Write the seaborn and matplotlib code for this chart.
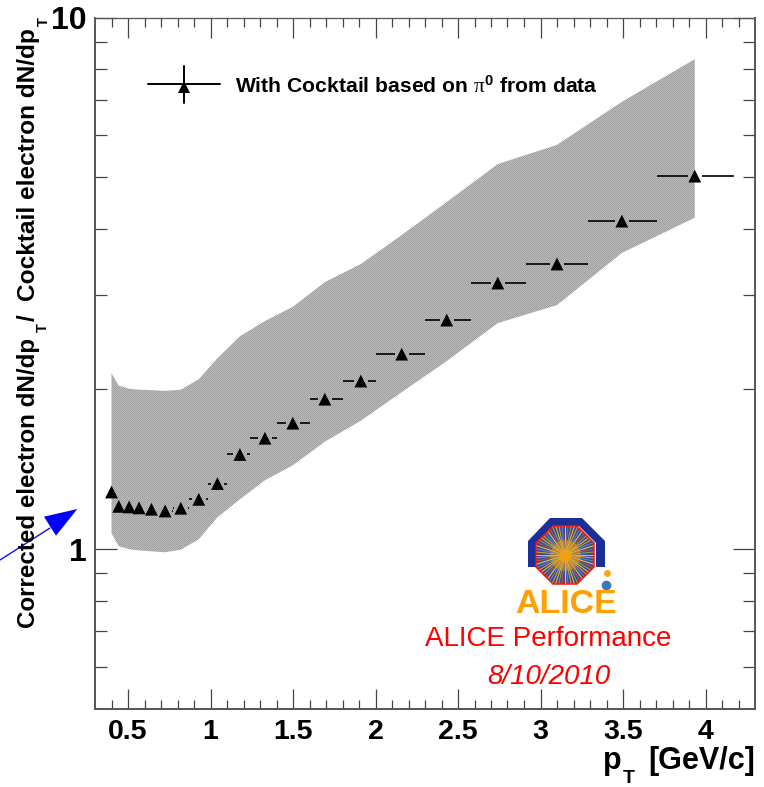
import numpy as np
import matplotlib
matplotlib.use('Agg')
import matplotlib.pyplot as plt
from matplotlib.patches import Polygon
from matplotlib.ticker import FixedLocator, NullFormatter
import seaborn as sns

pt = [0.40, 0.444, 0.507, 0.567, 0.642, 0.725, 0.82, 0.929, 1.042, 1.178, 1.33, 1.499,
      1.693, 1.911, 2.159, 2.432, 2.741, 3.10, 3.493, 3.935]
ratio = [1.28, 1.203, 1.20, 1.195, 1.188, 1.179, 1.193, 1.24, 1.328, 1.506, 1.616, 1.725,
         1.914, 2.07, 2.326, 2.696, 3.165, 3.437, 4.14, 5.03]
pt_low = [0.38, 0.42, 0.47, 0.54, 0.60, 0.68, 0.77, 0.87, 0.985, 1.10, 1.24, 1.40,
          1.60, 1.80, 2.00, 2.30, 2.58, 2.91, 3.285, 3.705]
pt_high = [0.42, 0.47, 0.54, 0.60, 0.68, 0.77, 0.87, 0.985, 1.10, 1.24, 1.40, 1.60,
           1.80, 2.00, 2.30, 2.58, 2.91, 3.285, 3.705, 4.173]
band_up = [2.142, 2.029, 2.003, 1.994, 1.99, 1.984, 1.994, 2.087, 2.286, 2.513, 2.685, 2.856,
           3.178, 3.437, 3.897, 4.497, 5.30, 5.76, 6.94, 8.35]
band_down = [1.07, 1.012, 0.999, 0.994, 0.99, 0.986, 0.997, 1.043, 1.147, 1.24, 1.347, 1.437,
             1.592, 1.743, 1.973, 2.257, 2.661, 2.877, 3.605, 4.2]
x_ticks = [0.5, 1, 1.5, 2, 2.5, 3, 3.5, 4]
x_labels = ['0.5', '1', '1.5', '2', '2.5', '3', '3.5', '4']
x_minor = [0.4, 0.6, 0.7, 0.8, 0.9, 1.1, 1.2, 1.3, 1.4, 1.6, 1.7, 1.8, 1.9, 2.1, 2.2, 2.3, 2.4,
           2.6, 2.7, 2.8, 2.9, 3.1, 3.2, 3.3, 3.4, 3.6, 3.7, 3.8, 3.9, 4.1, 4.2]
y_minor = [0.6, 0.7, 0.8, 0.9, 2, 3, 4, 5, 6, 7, 8, 9]

sns.set_style('white')
plt.rcParams['font.family'] = ['Liberation Sans']
plt.rcParams['text.color'] = 'k'
plt.rcParams['mathtext.fontset'] = 'custom'
plt.rcParams['mathtext.rm'] = 'Liberation Sans:bold'
plt.rcParams['mathtext.it'] = 'Liberation Serif'
plt.rcParams['mathtext.default'] = 'rm'

fig = plt.figure(figsize=(7.64, 7.87), dpi=100)

# dithered grey of the band sits on its own axes under the main one
bg = fig.add_axes([0, 0, 1, 1], zorder=0)
bg.axis('off')
checker = np.indices((787, 764)).sum(axis=0) % 2
im = bg.imshow(checker, cmap='gray', vmin=-5.17, vmax=3.17, interpolation='nearest', aspect='auto')

ax = fig.add_axes([95 / 764, 1 - 709 / 787, 660 / 764, 691.5 / 787], zorder=1)
ax.patch.set_visible(False)

band = ax.fill_between(pt, band_down, band_up, facecolor='none', edgecolor='none')

gap = 0.042
for x, y, lo, hi in zip(pt, ratio, pt_low, pt_high):
    if x - gap > lo:
        ax.hlines(y, lo, x - gap, color='k', lw=1.2, zorder=2)
    if x + gap < hi:
        ax.hlines(y, x + gap, hi, color='k', lw=1.2, zorder=2)

sns.scatterplot(x=pt, y=ratio, marker='^', color='k', s=85, edgecolor='none', zorder=3, ax=ax)

ax.set_yscale('log')
ax.set_xlim(0.3, 4.3)
ax.set_ylim(0.5, 10)
im.set_clip_path(band.get_paths()[0], transform=ax.transData)

ax.set_xticks(x_ticks)
ax.set_xticklabels(x_labels, fontsize=20.5, fontweight='bold')
ax.xaxis.set_minor_locator(FixedLocator(x_minor))
ax.yaxis.set_major_locator(FixedLocator([1, 10]))
ax.yaxis.set_minor_locator(FixedLocator(y_minor))
ax.yaxis.set_minor_formatter(NullFormatter())
ax.set_yticklabels(['1', '10'], fontweight='bold')
ax.get_yticklabels()[0].set_fontsize(23)
ax.get_yticklabels()[1].set_fontsize(23)

ax.tick_params(axis='x', which='major', direction='in', length=14.5, width=0.9, color='#444444',
               top=True, bottom=True, pad=7, labelcolor='k')
ax.tick_params(axis='x', which='minor', direction='in', length=6.5, width=0.9, color='#444444',
               top=True, bottom=True)
ax.tick_params(axis='y', which='major', direction='in', length=15.5, width=0.9, color='#444444',
               left=True, right=True, pad=6, labelcolor='k')
ax.tick_params(axis='y', which='minor', direction='in', length=8.5, width=0.9, color='#444444',
               left=True, right=True)
for side in ax.spines:
    ax.spines[side].set_color('#555555')
    ax.spines[side].set_linewidth(1.4)
ax.spines['top'].set_linewidth(0.9)

# overlay in pixel coordinates for the titles, legend, logo and arrow
ov = fig.add_axes([0, 0, 1, 1], facecolor='none', zorder=2)
ov.set_xlim(0, 764)
ov.set_ylim(787, 0)
ov.axis('off')

ylab = dict(rotation=90, fontweight='bold', ha='left', va='baseline', rotation_mode='anchor')
ov.text(35, 628, 'Corrected electron dN/dp', fontsize=17.4, **ylab)
ov.text(47, 332, 'T', fontsize=10.5, **ylab)
ov.text(35, 321, '/', fontsize=17.4, **ylab)
ov.text(35, 301, 'Cocktail electron dN/dp', fontsize=17.6, **ylab)
ov.text(48, 26, 'T', fontsize=10.5, **ylab)
ov.text(603, 769, 'p', fontsize=22, fontweight='bold', ha='left', va='baseline')
ov.text(623, 783, 'T', fontsize=14, fontweight='bold', ha='left', va='baseline')
ov.text(755, 769, '[GeV/c]', fontsize=22, fontweight='bold', ha='right', va='baseline')

# legend
ov.plot([148, 220], [84, 84], color='k', lw=1.4)
ov.plot([184, 184], [66, 103], color='k', lw=1.4)
ov.plot([184], [87], marker='^', color='k', ms=8.5, mew=0)
ov.text(235, 93, r'With Cocktail based on $\mathit{\pi}^{0}$ from data', fontsize=15.2, fontweight='bold', va='baseline')

# arrow
ov.plot([0, 50], [560, 528], color='#1010f0', lw=1)
ov.add_patch(Polygon([(77.3, 509), (44, 516.7), (56, 535.7)], closed=True, fc='#0000ff', ec='none'))

# logo
arch = [(528, 567), (528, 541), (550, 518), (582, 518), (605, 541), (605, 567),
        (596, 567), (596, 543), (579, 526), (553, 526), (536, 543), (536, 567)]
ov.add_patch(Polygon(arch, closed=True, fc='#1c2f96', ec='none'))
cx, cy, rad = 565, 555, 31
ang = np.deg2rad(np.arange(8) * 45 + 22.5)
octo = np.column_stack([cx + rad * np.cos(ang), cy + rad * np.sin(ang)])
ov.add_patch(Polygon(octo, closed=True, fc='#3d4a9a', ec='#f01010', lw=1.6, zorder=3))
clip = Polygon(octo, closed=True, transform=ov.transData)
ray_colors = ['#f5c518', '#e8a020', '#4f8fd0', '#f0d040', '#d05030', '#7fb050']
for i, a in enumerate(np.deg2rad(np.arange(0, 360, 6))):
    line, = ov.plot([cx, cx + rad * np.cos(a)], [cy, cy + rad * np.sin(a)], color=ray_colors[i % 6], lw=0.7, zorder=4)
    line.set_clip_path(clip)
ov.plot([cx], [cy], marker='o', ms=22, color='#f0a010', mew=0, alpha=0.45, zorder=5)
ov.plot([cx], [cy], marker='o', ms=9, color='#f0a010', mew=0, zorder=5)
ov.plot([607], [573], marker='o', ms=5, color='#f5a623', mew=0)
ov.plot([606], [585], marker='o', ms=7, color='#3a7ab8', mew=0)
ov.text(566, 613, 'ALICE', color='#ffa000', fontsize=24.5, fontweight='bold', ha='center', va='baseline')

ov.text(548, 646, 'ALICE Performance', color='#ff0000', fontsize=20, ha='center', va='baseline')
ov.text(549, 684, '8/10/2010', color='#ff0000', fontsize=20, style='italic', ha='center', va='baseline')

fig.savefig('out.png', dpi=100)
